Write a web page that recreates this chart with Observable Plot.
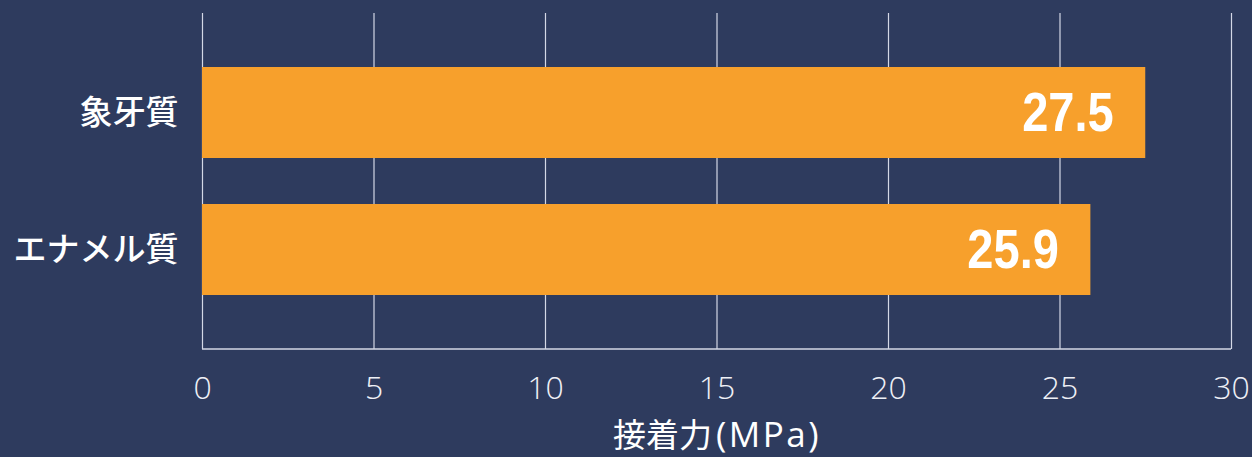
<!DOCTYPE html>
<html><head><meta charset="utf-8">
<script src="https://cdn.jsdelivr.net/npm/d3@7"></script>
<script src="https://cdn.jsdelivr.net/npm/@observablehq/plot@0.6"></script>
<style>
html,body{margin:0;padding:0;background:#2e3b5e;}
#chart{width:1252px;height:457px;overflow:hidden;}
</style></head>
<body><div id="chart"></div>
<script>
const categories = ["象牙質", "エナメル質"];
const values = [27.5, 25.9];
const ticks = [0, 5, 10, 15, 20, 25, 30];
const xLabelMain = "接着力";
const xLabelUnit = "(MPa)";

const data = categories.map((c, i) => ({cat: c, v: values[i]}));

const chart = Plot.plot({
  width: 1252, height: 457,
  marginLeft: 202, marginRight: 21, marginTop: 13, marginBottom: 108,
  style: {background: "#2e3b5e", color: "#ffffff", fontFamily: "'Noto Sans CJK JP', 'Noto Sans', sans-serif"},
  x: {domain: [0, 30], ticks: ticks, label: null},
  y: {domain: categories, paddingInner: 0.336, paddingOuter: 0.394, label: null},
  marks: [
    Plot.ruleX(ticks, {stroke: "#d4d8e6", strokeWidth: 1.2}),
    Plot.barX(data, {x: "v", y: "cat", fill: "#f7a02c"}),
    Plot.axisX({ticks: ticks, tickSize: 0, tickPadding: 27, fontSize: 32, fontWeight: 300,
      fontFamily: "'Open Sans', 'Noto Sans', sans-serif", fill: "#eef0f6", label: null}),
    Plot.axisY({tickSize: 0, tickPadding: 24, fontSize: 33, fontWeight: 500, fill: "#ffffff", label: null}),
    Plot.text(data, {x: "v", y: "cat", text: d => d.v.toFixed(1), dx: -32, textAnchor: "end",
      fill: "#ffffff", fontSize: 56, fontWeight: "bold", className: "val",
      fontFamily: "'Liberation Sans', 'Roboto', sans-serif"}),
    Plot.text([xLabelMain + xLabelUnit], {x: 15, frameAnchor: "bottom", dy: 97, text: d => d, fontSize: 33,
      fill: "#ffffff", lineAnchor: "bottom", className: "xlab"})
  ]
});
// condense the value labels horizontally (no condensed font installed)
d3.select(chart).selectAll("g.val text").each(function () {
  const t = this;
  const tr = t.getAttribute("transform");
  if (tr) {
    t.setAttribute("transform", tr + " scale(0.84,1)");
  } else {
    const x = +t.getAttribute("x") || 0, y = +t.getAttribute("y") || 0;
    t.removeAttribute("x"); t.removeAttribute("y");
    t.setAttribute("transform", `translate(${x},${y}) scale(0.84,1)`);
  }
});
// axis title: kanji and unit in slightly different type
d3.select(chart).selectAll("g.xlab text").each(function () {
  const t = d3.select(this);
  t.text(null);
  t.append("tspan").text(xLabelMain);
  t.append("tspan").text(xLabelUnit)
    .attr("font-family", "'Open Sans', 'Noto Sans', sans-serif")
    .attr("font-size", 35).attr("letter-spacing", 2.5).attr("dx", 4);
});
// bottom axis line drawn with the chart's x scale
const sx = chart.scale("x");
d3.select(chart).append("line")
  .attr("x1", sx.apply(0)).attr("x2", sx.apply(30))
  .attr("y1", 457 - 108).attr("y2", 457 - 108)
  .attr("stroke", "#d4d8e6").attr("stroke-width", 1.6);
document.getElementById("chart").appendChild(chart);
</script>
</body></html>
